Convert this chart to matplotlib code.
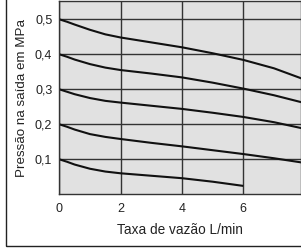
import matplotlib

matplotlib.use("Agg")
import matplotlib.pyplot as plt
from matplotlib.patches import Rectangle

plt.rcParams["font.family"] = ["Liberation Sans", "DejaVu Sans"]

# flow rate (L/min) and outlet pressure (MPa) for each set pressure
flow_long = [0, 0.25, 0.5, 1, 1.5, 2, 3, 4, 5, 6, 7, 7.9]
flow_short = [0, 0.25, 0.5, 1, 1.5, 2, 3, 4, 5, 6]
p05 = [0.500, 0.493, 0.485, 0.470, 0.457, 0.448, 0.434, 0.420, 0.403, 0.384, 0.360, 0.331]
p04 = [0.400, 0.393, 0.385, 0.372, 0.362, 0.355, 0.345, 0.334, 0.319, 0.302, 0.283, 0.263]
p03 = [0.300, 0.293, 0.286, 0.275, 0.267, 0.262, 0.253, 0.244, 0.233, 0.221, 0.206, 0.189]
p02 = [0.200, 0.193, 0.185, 0.172, 0.164, 0.158, 0.147, 0.137, 0.126, 0.115, 0.103, 0.091]
p01 = [0.100, 0.093, 0.085, 0.073, 0.065, 0.060, 0.053, 0.046, 0.036, 0.024]

xticks = [0, 2, 4, 6]
yticks = [0.1, 0.2, 0.3, 0.4, 0.5]
ytick_labels = ["0,1", "0,2", "0,3", "0,4", "0,5"]

W, H = 301, 248
fig = plt.figure(figsize=(W / 100, H / 100), dpi=100)

# outer frame
fig.patches.append(Rectangle((6 / W, 2 / H), 1.2, 1.2, transform=fig.transFigure,
                             fill=False, edgecolor="#222222", linewidth=1.0))

ax = fig.add_axes([59.3 / W, 53.7 / H, (W - 59.3) / W, 193.3 / H])
ax.set_facecolor("#e1e1e1")
for c in [p05, p04, p03, p02]:
    ax.plot(flow_long, c, color="#111111", lw=1.5, solid_capstyle="butt")
ax.plot(flow_short, p01, color="#111111", lw=1.5, solid_capstyle="butt")

ax.set_xlim(0, (W - 59.3) / 30.67)
ax.set_ylim(0, 193.3 / 350)
ax.set_xticks(xticks)
ax.set_yticks(yticks)
ax.set_yticklabels(ytick_labels)
ax.tick_params(length=0, labelsize=9, colors="#222222", pad=5)
ax.tick_params(axis="x", pad=6)
ax.grid(True, color="#333333", lw=1.0)
ax.set_axisbelow(True)
for s in ax.spines.values():
    s.set_color("#333333")
    s.set_linewidth(1.0)

ax.set_xlabel("Taxa de vazão L/min", fontsize=9.8, color="#222222", labelpad=6)
ax.set_ylabel("Pressão na saída em MPa", fontsize=9.6, color="#222222", labelpad=5)

fig.savefig("out.png", dpi=100)
